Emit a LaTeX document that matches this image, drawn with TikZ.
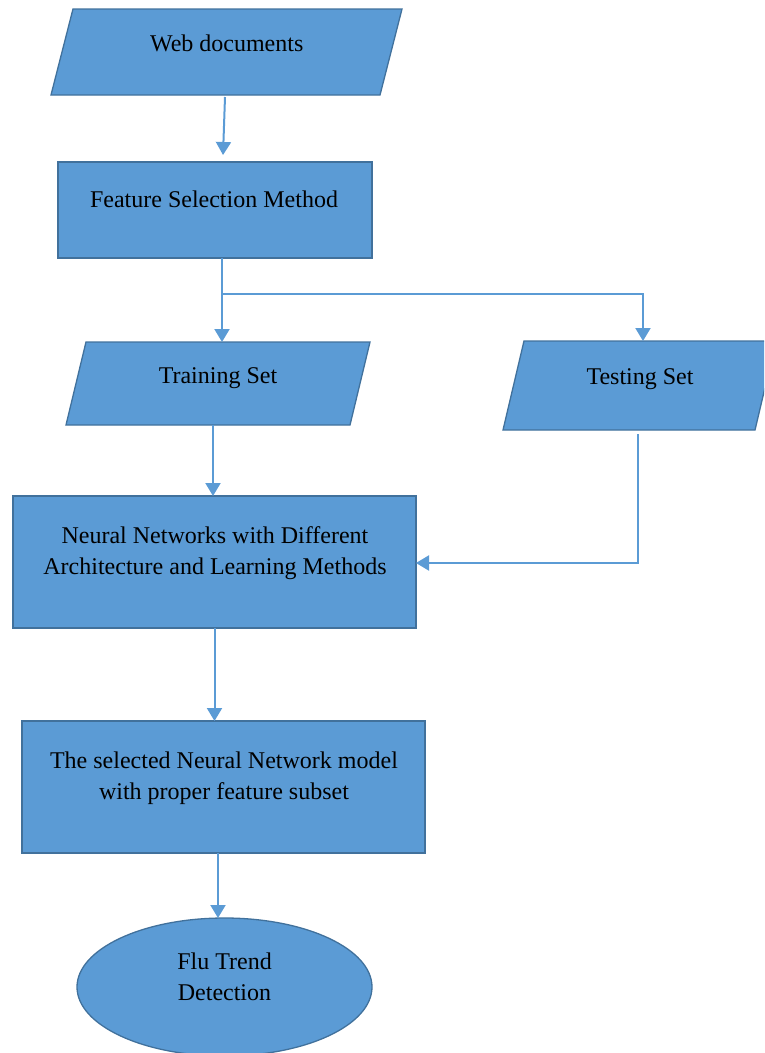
\documentclass[tikz,border=0pt]{standalone}
\usepackage{fontspec}
\setmainfont{Liberation Serif}
\usetikzlibrary{shapes.geometric,arrows.meta,calc}
\definecolor{boxfill}{HTML}{5B9BD5}
\definecolor{boxedge}{HTML}{41719C}
\definecolor{wire}{HTML}{5B9BD5}
\tikzset{
  shapebase/.style={fill=boxfill,draw=boxedge,line width=1.3pt,line join=miter},
  procbox/.style={shapebase,rectangle,inner sep=0pt,outer sep=0pt,minimum width=#1},
  iobox/.style={rectangle,inner sep=0pt,outer sep=0pt,minimum width=#1},
  termbox/.style={shapebase,ellipse,inner sep=0pt,outer sep=0pt,minimum width=295pt,minimum height=138pt},
  lbl/.style={anchor=base,align=center,inner sep=0pt,font=\fontsize{24}{31}\selectfont},
  arr/.style={draw=wire,line width=2pt,-{Triangle[width=15pt,length=13pt]}}
}
% slanted input/output box drawn over the frame of node #1, slant #2
\newcommand\slantbox[2]{%
  \path[shapebase] (#1.south west) -- ($(#1.south east)+(-#2,0)$) -- (#1.north east)
    -- ($(#1.north west)+(#2,0)$) -- cycle;}
\begin{document}
\begin{tikzpicture}[x=1pt,y=-1pt]
\useasboundingbox (0,0) rectangle (764,1053);
\clip (0,0) rectangle (764,1053);

% shapes
\node[iobox=351pt,minimum height=86pt] (web) at (226.5,52) {};
\slantbox{web}{22}
\node[procbox=314pt,minimum height=96pt] (feat) at (215,210) {};
\node[iobox=304pt,minimum height=83pt] (train) at (218,383.5) {};
\slantbox{train}{20}
\node[iobox=273pt,minimum height=89pt] (test) at (639.5,385.5) {};
\slantbox{test}{21}
\node[procbox=403pt,minimum height=132pt] (nn) at (214.5,562) {};
\node[procbox=403pt,minimum height=132pt] (sel) at (223.5,787) {};
\node[termbox] (flu) at (224.5,987) {};

% texts
\node[lbl] (tweb) at ($(web.center)+(0.2,-1)$) {Web documents};
\node[lbl] (tfeat) at ($(feat.center)+(-1,-3)$) {Feature Selection Method};
\node[lbl] (ttrain) at ($(train.center)+(0,-0.5)$) {Training Set};
\node[lbl] (ttest) at ($(test.center)+(0.5,-1.5)$) {Testing Set};
\node[lbl] (tnn) at ($(nn.center)+(0.5,12)$) {Neural Networks with Different\\Architecture and Learning Methods};
\node[lbl] (tsel) at ($(sel.center)+(0.5,12)$) {The selected Neural Network model\\with proper feature subset};
\node[lbl] (tflu) at ($(flu.center)+(0,13)$) {Flu Trend\\Detection};

% connectors
\coordinate (w0) at ($(web.center |- web.south)+(-1.5,2)$);
\coordinate (f0) at ($(feat.center |- feat.north)+(8,-7)$);
\draw[arr] (w0) -- (f0);

\coordinate (f1) at ($(feat.center |- feat.south)+(7,0)$);
\coordinate (br) at ($(f1)+(0,36)$);
\coordinate (t0) at ($(test.center)+(3.5,0)$);
\draw[arr] (f1) -- (f1 |- train.north);
\draw[arr] (br) -| (t0 |- test.north);

\coordinate (r0) at ($(train.center |- train.south)+(-5,0)$);
\draw[arr] (r0) -- (r0 |- nn.north);

\coordinate (s0) at ($(test.center |- test.south)+(-1.5,4)$);
\coordinate (s1) at ($(nn.east)+(0,1)$);
\draw[arr] (s0) |- (s1);

\draw[arr] (nn.south) -- (nn.south |- sel.north);

\coordinate (q0) at ($(sel.south)+(-5.5,0)$);
\draw[arr] (q0) -- (q0 |- flu.north);
\end{tikzpicture}
\end{document}
